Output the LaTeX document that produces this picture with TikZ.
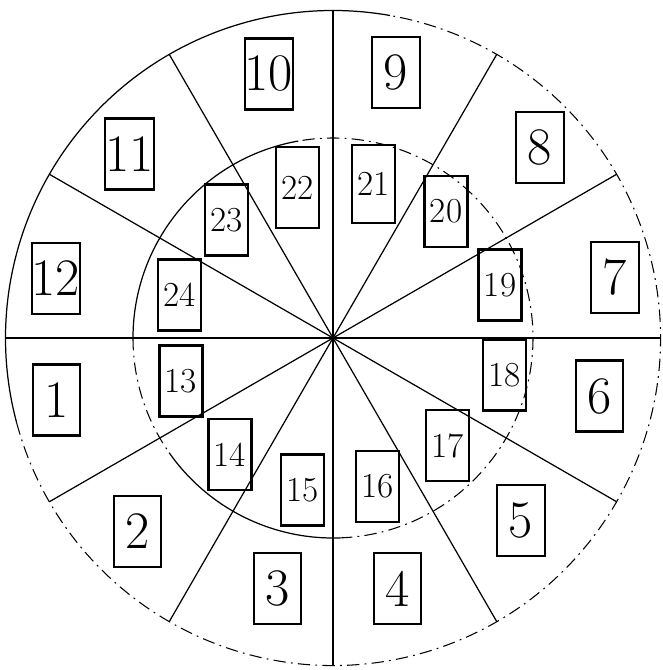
\documentclass[tikz,border=0pt]{standalone}
\usepackage{tikz}
\tikzset{
  cellout/.style={draw,line width=1.2pt,minimum width=0.95cm,minimum height=1.42cm,inner sep=0pt,font=\fontsize{30}{30}\selectfont},
  cellin/.style={draw,line width=1.2pt,minimum width=0.86cm,minimum height=1.42cm,inner sep=0pt,font=\fontsize{20}{20}\selectfont},
  spoke/.style={line width=0.7pt},
  rim/.style={line width=0.7pt},
  rimdash/.style={line width=0.6pt,dash pattern=on 7pt off 3pt on 1pt off 3pt}
}

\begin{document}
\begin{tikzpicture}[x=1cm,y=1cm]
\path[use as bounding box] (-6.66,-6.64) rectangle (6.58,6.76);
\coordinate (c) at (0,0);
% outer rim
\draw[rim] (80:6.55) arc[start angle=80,end angle=195,radius=6.55];
\draw[rimdash] (195:6.55) arc[start angle=195,end angle=440,radius=6.55];
% inner rim
\draw[rim] (100:4.0) arc[start angle=100,end angle=180,radius=4.0];
\draw[rimdash] (180:4.0) arc[start angle=180,end angle=215,radius=4.0];
\draw[rim] (215:4.0) arc[start angle=215,end angle=272,radius=4.0];
\draw[rimdash] (272:4.0) arc[start angle=272,end angle=460,radius=4.0];
% spokes
\foreach \a in {0,30,...,330}
  \draw[spoke] (c) -- (\a:6.55);
% outer cells
\node[cellout] (o1) at (-5.53,-1.24) {1};
\node[cellout] (o2) at (-3.91,-3.87) {2};
\node[cellout] (o3) at (-1.11,-5.01) {3};
\node[cellout] (o4) at (1.29,-5.01) {4};
\node[cellout] (o5) at (3.76,-3.65) {5};
\node[cellout] (o6) at (5.33,-1.16) {6};
\node[cellout] (o7) at (5.64,1.21) {7};
\node[cellout] (o8) at (4.14,3.81) {8};
\node[cellout] (o9) at (1.26,5.31) {9};
\node[cellout] (o10) at (-1.28,5.28) {10};
\node[cellout] (o11) at (-4.07,3.68) {11};
\node[cellout] (o12) at (-5.54,1.19) {12};
% inner cells
\node[cellin] (i13) at (-3.04,-0.86) {13};
\node[cellin] (i14) at (-2.06,-2.33) {14};
\node[cellin] (i15) at (-0.61,-3.04) {15};
\node[cellin] (i16) at (0.89,-2.97) {16};
\node[cellin] (i17) at (2.29,-2.15) {17};
\node[cellin] (i18) at (3.43,-0.74) {18};
\node[cellin] (i19) at (3.34,1.06) {19};
\node[cellin] (i20) at (2.26,2.53) {20};
\node[cellin,minimum height=1.56cm] (i21) at (0.81,3.08) {21};
\node[cellin,minimum height=1.62cm] (i22) at (-0.71,3.01) {22};
\node[cellin] (i23) at (-2.13,2.36) {23};
\node[cellin] (i24) at (-3.07,0.86) {24};
\end{tikzpicture}
\end{document}
